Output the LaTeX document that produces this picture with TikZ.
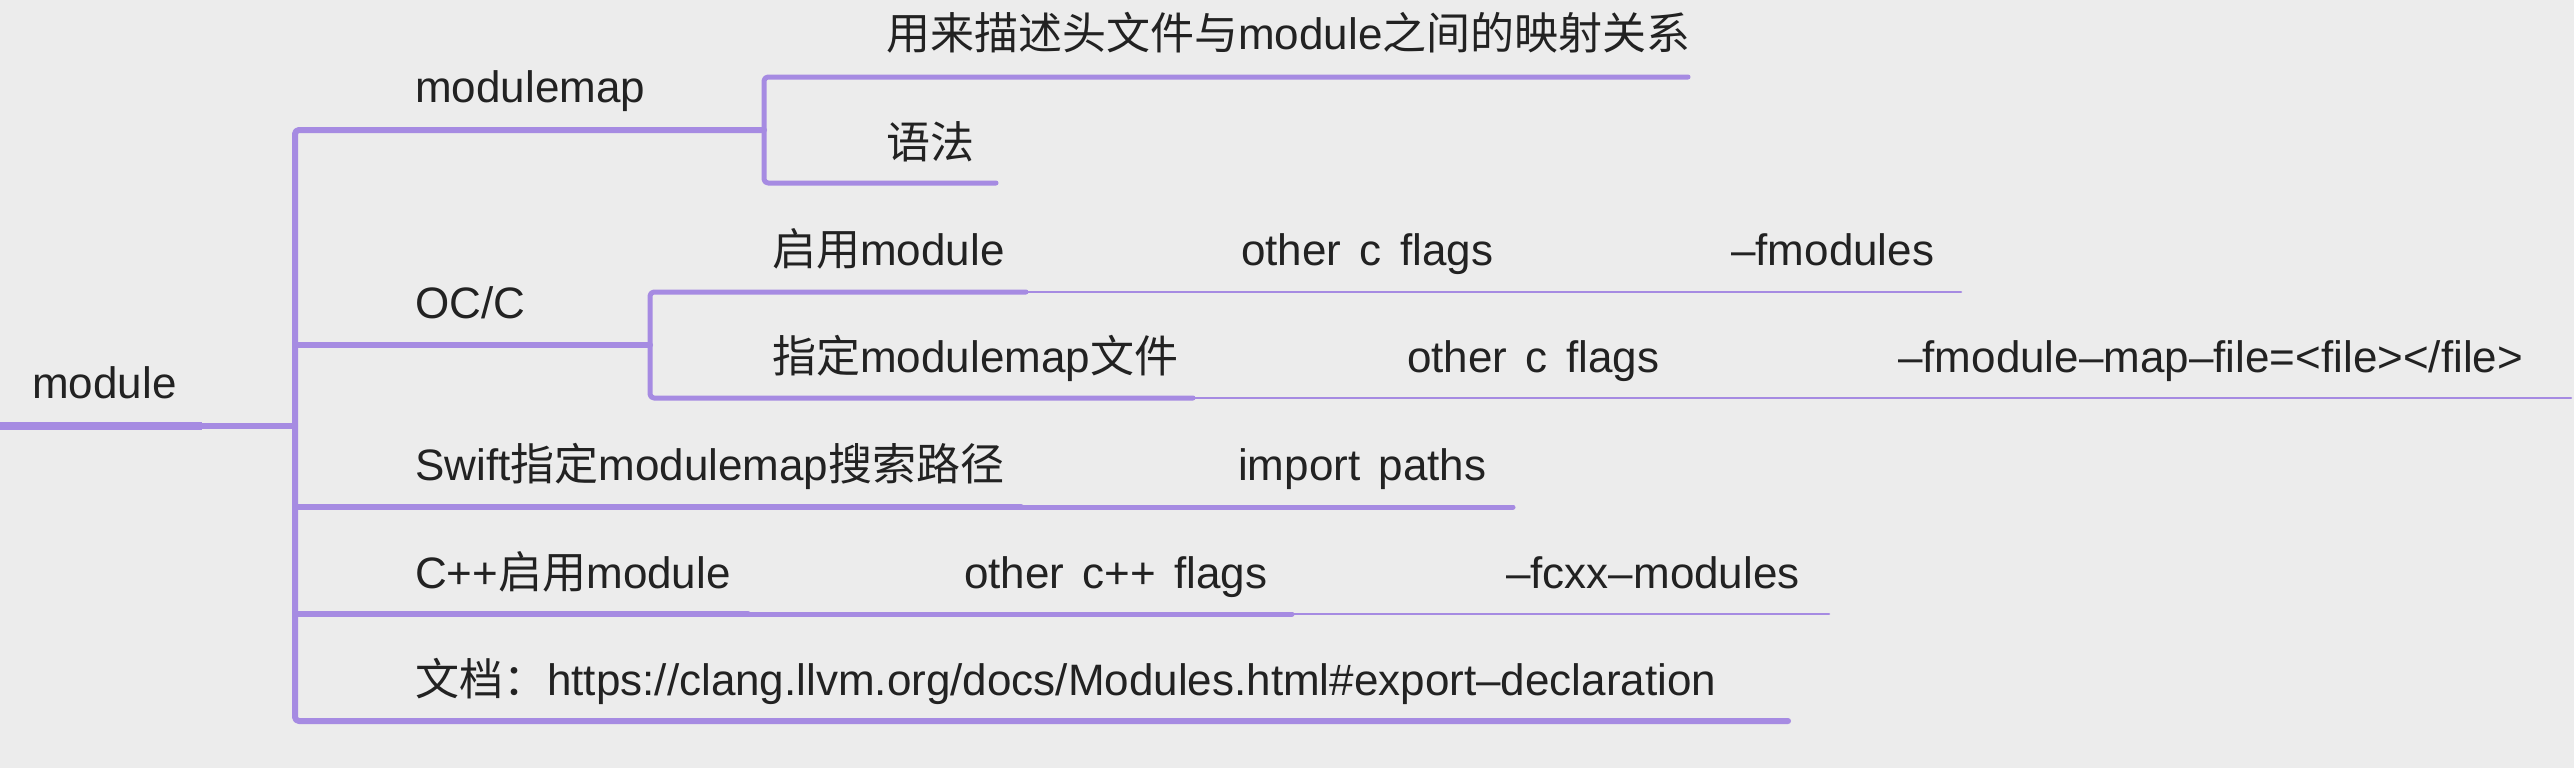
\documentclass[tikz,border=0pt]{standalone}
\usepackage{fontspec}
\setmainfont{Liberation Sans}[WordSpace=1.5]
\newfontfamily\cjk{Noto Sans CJK SC}
\definecolor{branch}{RGB}{166,139,226}
\definecolor{bg}{RGB}{236,236,236}
\definecolor{ink}{RGB}{34,34,34}
\tikzset{
  lbl/.style={anchor=base west, inner sep=0pt, text=ink, font=\fontsize{44}{52}\selectfont},
  br/.style={draw=branch, line cap=round, line join=round, rounded corners=4pt},
  lv0/.style={br, line width=8pt},
  lv1/.style={br, line width=6pt},
  lv2/.style={br, line width=5pt},
  lv3/.style={br, line width=2.5pt}
}
\begin{document}
\begin{tikzpicture}[x=1pt,y=-1pt]
\useasboundingbox (0,0) rectangle (2574,768);
\fill[bg] (0,0) rectangle (2574,768);

% text nodes
\node[lbl] (root) at (32,398) {module};
\node[lbl] (mm) at (415,102) {modulemap};
\node[lbl] (mm1) at (886,50) {{\cjk 用来描述头文件与}module{\cjk 之间的映射关系}};
\node[lbl] (mm2) at (886,158) {{\cjk 语法}};
\node[lbl] (oc) at (415,318) {OC/C};
\node[lbl] (oc1) at (772,265) {{\cjk 启用}module};
\node[lbl] (oc1a) at (1241,265) {other c flags};
\node[lbl] (oc1b) at (1731,265) {–fmodules};
\node[lbl] (oc2) at (772,372) {{\cjk 指定}modulemap{\cjk 文件}};
\node[lbl] (oc2a) at (1407,372) {other c flags};
\node[lbl] (oc2b) at (1898,372) {–fmodule–map–file=<file></file>};
\node[lbl] (sw) at (415,480) {Swift{\cjk 指定}modulemap{\cjk 搜索路径}};
\node[lbl] (swa) at (1238,480) {import paths};
\node[lbl] (cpp) at (415,588) {C++{\cjk 启用}module};
\node[lbl] (cppa) at (964,588) {other c++ flags};
\node[lbl] (cppb) at (1506,588) {–fcxx–modules};
\node[lbl] (doc) at (415,695) {{\cjk 文档：}https://clang.llvm.org/docs/Modules.html\#export–declaration};

% branch points
\coordinate (rootL) at (-10,426);
\coordinate (rootR) at (202,426);
\coordinate (hub) at (295,426);
\coordinate (hubTop) at (295,130);
\coordinate (hubBot) at (295,721);
\coordinate (mmR) at (764,130);
\coordinate (mmT) at (764,77);
\coordinate (mmB) at (764,183);
\coordinate (mm1R) at (1688,77);
\coordinate (mm2R) at (996,183);
\coordinate (ocL) at (295,345);
\coordinate (ocR) at (650,345);
\coordinate (ocT) at (650,292);
\coordinate (ocB) at (650,398);
\coordinate (oc1R) at (1026,292);
\coordinate (oc1aR) at (1515,292);
\coordinate (oc1bR) at (1961,292);
\coordinate (oc2R) at (1193,398);
\coordinate (oc2aR) at (1681,398);
\coordinate (oc2bR) at (2571,398);
\coordinate (swL) at (295,507);
\coordinate (swR) at (1021,507);
\coordinate (swaR) at (1513,507);
\coordinate (cppL) at (295,614);
\coordinate (cppR) at (748,614);
\coordinate (cppaR) at (1292,614);
\coordinate (cppbR) at (1829,614);
\coordinate (docR) at (1788,721);

% connectors
\draw[lv0, line cap=butt] (rootL) -- (rootR);
\draw[lv1] (rootR) -- (hub);
\draw[lv1] (mmR) -- (hubTop) -- (hubBot) -- (docR);
\draw[lv1] (ocL) -- (ocR);
\draw[lv1] (swL) -- (swR);
\draw[lv2] (swR) -- (swaR);
\draw[lv1] (cppL) -- (cppR);
\draw[lv2] (cppR) -- (cppaR);
\draw[lv3] (cppaR) -- (cppbR);
\draw[lv2] (mm1R) -- (mmT) -- (mmB) -- (mm2R);
\draw[lv2] (oc1R) -- (ocT) -- (ocB) -- (oc2R);
\draw[lv3] (oc1R) -- (oc1aR) -- (oc1bR);
\draw[lv3] (oc2R) -- (oc2aR) -- (oc2bR);
\end{tikzpicture}
\end{document}
